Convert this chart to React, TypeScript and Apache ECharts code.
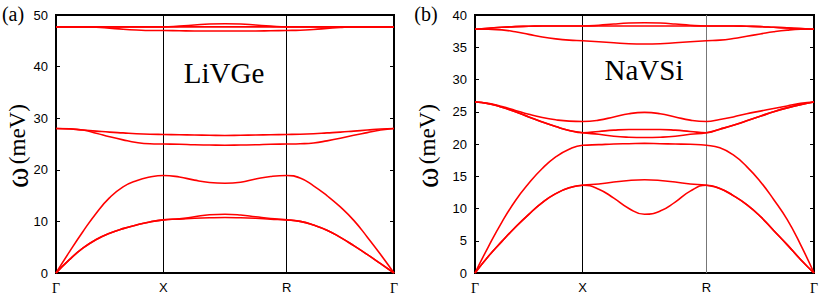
import React, { useEffect, useRef } from "react";
import * as echarts from "echarts";

// k-path positions (Γ, X, R, Γ) and sample points along the path
const K_LABEL_POS = [0, 1, 2.15, 3.15];
const K_LABELS = ["Γ", "X", "R", "Γ"];
const K = [0, 0.125, 0.25, 0.375, 0.5, 0.625, 0.75, 0.875, 1.0,
  1.15, 1.29, 1.43, 1.575, 1.72, 1.86, 2.0, 2.15,
  2.275, 2.4, 2.525, 2.65, 2.775, 2.9, 3.025, 3.15];

// (a) LiVGe phonon bands (meV)
const LIVGE_LA = [0, 4.1, 8.0, 11.6, 14.6, 16.7, 17.9, 18.6, 18.9, 18.6, 18.0, 17.55, 17.4, 17.6, 18.2, 18.7, 18.9, 18.4, 16.9, 15.0, 12.8, 10.2, 7.0, 3.6, 0];
const LIVGE_TA1 = [0, 2.6, 4.8, 6.5, 7.7, 8.6, 9.3, 9.9, 10.3, 10.5, 10.9, 11.3, 11.4, 11.25, 10.9, 10.55, 10.3, 10.0, 9.3, 8.3, 6.9, 5.3, 3.6, 1.8, 0];
const LIVGE_TA2 = [0, 2.6, 4.8, 6.5, 7.7, 8.6, 9.3, 9.9, 10.3, 10.45, 10.6, 10.7, 10.75, 10.7, 10.6, 10.45, 10.3, 10.0, 9.3, 8.3, 6.9, 5.3, 3.6, 1.8, 0];
const LIVGE_O1 = [28.0, 27.9, 27.7, 27.5, 27.3, 27.15, 27.0, 26.9, 26.85, 26.8, 26.75, 26.7, 26.65, 26.7, 26.75, 26.8, 26.85, 26.9, 27.0, 27.15, 27.3, 27.5, 27.7, 27.9, 28.0];
const LIVGE_O2 = [28.0, 27.95, 27.7, 27.1, 26.4, 25.8, 25.3, 25.05, 25.0, 24.95, 24.85, 24.8, 24.75, 24.8, 24.85, 24.95, 25.0, 25.05, 25.2, 25.6, 26.1, 26.7, 27.2, 27.7, 28.0];
const LIVGE_H1 = [47.7, 47.7, 47.7, 47.7, 47.7, 47.7, 47.7, 47.7, 47.7, 47.7, 47.7, 47.7, 47.7, 47.7, 47.7, 47.7, 47.7, 47.7, 47.7, 47.7, 47.7, 47.7, 47.7, 47.7, 47.7];
const LIVGE_H2 = [47.7, 47.7, 47.7, 47.7, 47.7, 47.7, 47.7, 47.7, 47.7, 47.85, 48.05, 48.25, 48.3, 48.25, 48.05, 47.85, 47.7, 47.7, 47.7, 47.7, 47.7, 47.7, 47.7, 47.7, 47.7];
const LIVGE_H3 = [47.7, 47.7, 47.7, 47.65, 47.45, 47.25, 47.1, 47.0, 47.0, 46.95, 46.9, 46.9, 46.9, 46.9, 46.9, 46.95, 47.0, 47.05, 47.2, 47.4, 47.6, 47.7, 47.7, 47.7, 47.7];

// (b) NaVSi phonon bands (meV)
const NAVSI_LA = [0, 4.1, 7.9, 11.2, 13.9, 16.2, 18.0, 19.2, 19.8, 19.9, 20.0, 20.05, 20.1, 20.05, 20.0, 19.95, 19.8, 19.4, 18.3, 16.5, 14.2, 11.4, 8.3, 4.4, 0];
const NAVSI_TA1 = [0, 2.6, 4.9, 7.1, 9.1, 10.9, 12.3, 13.2, 13.6, 13.0, 11.6, 10.0, 9.1, 9.6, 11.0, 12.7, 13.6, 13.1, 12.0, 10.6, 8.8, 6.6, 4.4, 2.1, 0];
const NAVSI_TA2 = [0, 2.6, 4.9, 7.1, 9.1, 10.9, 12.3, 13.2, 13.6, 13.8, 14.1, 14.35, 14.45, 14.35, 14.1, 13.8, 13.6, 13.1, 12.0, 10.6, 8.8, 6.6, 4.4, 2.1, 0];
const NAVSI_O1 = [26.5, 26.3, 25.8, 25.2, 24.6, 24.1, 23.75, 23.55, 23.5, 23.7, 24.2, 24.7, 24.9, 24.7, 24.2, 23.7, 23.5, 23.8, 24.2, 24.7, 25.1, 25.5, 25.9, 26.3, 26.5];
const NAVSI_O2 = [26.5, 26.25, 25.7, 25.0, 24.2, 23.4, 22.7, 22.1, 21.75, 21.95, 22.15, 22.25, 22.25, 22.25, 22.15, 21.95, 21.75, 22.3, 22.9, 23.6, 24.3, 25.0, 25.6, 26.1, 26.5];
const NAVSI_O3 = [26.5, 26.25, 25.7, 25.0, 24.2, 23.4, 22.7, 22.1, 21.75, 21.5, 21.2, 21.05, 21.0, 21.05, 21.2, 21.5, 21.75, 22.3, 22.9, 23.6, 24.3, 25.0, 25.6, 26.1, 26.5];
const NAVSI_H1 = [37.8, 37.95, 38.1, 38.2, 38.25, 38.3, 38.3, 38.3, 38.3, 38.3, 38.3, 38.3, 38.3, 38.3, 38.3, 38.3, 38.3, 38.3, 38.3, 38.25, 38.2, 38.1, 38.0, 37.9, 37.8];
const NAVSI_H2 = [37.8, 37.95, 38.1, 38.2, 38.25, 38.3, 38.3, 38.3, 38.3, 38.4, 38.6, 38.75, 38.8, 38.75, 38.6, 38.4, 38.3, 38.3, 38.3, 38.25, 38.2, 38.1, 38.0, 37.9, 37.8];
const NAVSI_H3 = [37.8, 37.78, 37.7, 37.4, 37.0, 36.6, 36.3, 36.1, 36.0, 35.85, 35.7, 35.55, 35.5, 35.55, 35.7, 35.85, 36.0, 36.1, 36.35, 36.7, 37.05, 37.4, 37.65, 37.78, 37.8];

const LEFT_BANDS = [LIVGE_LA, LIVGE_TA1, LIVGE_TA2, LIVGE_O1, LIVGE_O2, LIVGE_H1, LIVGE_H2, LIVGE_H3];
const RIGHT_BANDS = [NAVSI_LA, NAVSI_TA1, NAVSI_TA2, NAVSI_O1, NAVSI_O2, NAVSI_O3, NAVSI_H1, NAVSI_H2, NAVSI_H3];

const SANS = "'Liberation Sans', Arial, sans-serif";
const SERIF = "'Liberation Serif', 'Times New Roman', serif";

function kLabel(v: number) {
  const i = K_LABEL_POS.findIndex((p) => Math.abs(p - v) < 1e-6);
  if (i < 0) return "";
  const s = K_LABELS[i];
  return s === "Γ" ? "{g|Γ}" : s;
}

export default function App() {
  const ref = useRef<HTMLDivElement>(null);
  useEffect(() => {
    if (!ref.current) return;
    const chart = echarts.init(ref.current, undefined, { renderer: "svg" });

    const mkX = (gi: number) => ({
      type: "value",
      gridIndex: gi,
      min: 0,
      max: K_LABEL_POS[K_LABEL_POS.length - 1],
      axisLine: { show: false },
      axisTick: { show: false },
      splitLine: { show: false },
      axisLabel: {
        customValues: K_LABEL_POS,
        formatter: kLabel,
        color: "#000",
        fontSize: 13,
        fontFamily: SANS,
        margin: 8,
        rich: { g: { fontFamily: SERIF, fontSize: 14, color: "#000" } },
      },
    });
    const mkY = (gi: number, max: number, interval: number, side: "left" | "right") => ({
      type: "value",
      gridIndex: gi,
      position: side,
      min: 0,
      max,
      interval,
      axisLine: { show: false },
      axisTick: { show: true, inside: true, length: 4, lineStyle: { color: "#000", width: 1 } },
      splitLine: { show: false },
      axisLabel: {
        show: side === "left",
        color: "#000",
        fontSize: 13,
        fontFamily: SANS,
        margin: 8,
      },
    });

    const series: any[] = [];
    const addBands = (bands: number[][], gi: number, lineColors: string[]) => {
      bands.forEach((b, bi) => {
        const s: any = {
          type: "line",
          xAxisIndex: gi,
          yAxisIndex: gi * 2,
          data: K.map((k, i) => [k, b[i]]),
          smooth: 0.5,
          showSymbol: false,
          symbol: "none",
          lineStyle: { color: "#ff0000", width: 1.6 },
          silent: true,
          z: 3,
        };
        if (bi === 0) {
          s.markLine = {
            silent: true,
            symbol: ["none", "none"],
            label: { show: false },
            z: 1,
            data: [
              { xAxis: K_LABEL_POS[1], lineStyle: { color: lineColors[0], width: 1, type: "solid" } },
              { xAxis: K_LABEL_POS[2], lineStyle: { color: lineColors[1], width: 1, type: "solid" } },
            ],
          };
        }
        series.push(s);
      });
    };
    addBands(LEFT_BANDS, 0, ["#000", "#000"]);
    addBands(RIGHT_BANDS, 1, ["#000", "#777"]);

    const yLabel = (x: number) => ({
      type: "text",
      x,
      y: 146,
      rotation: Math.PI / 2,
      style: {
        text: "{w|ω} {m|(meV)}",
        align: "center",
        verticalAlign: "middle",
        fill: "#000",
        rich: {
          w: { fontFamily: SERIF, fontSize: 31, fill: "#000", lineHeight: 26 },
          m: { fontFamily: SERIF, fontSize: 23, fill: "#000", lineHeight: 26 },
        },
      },
    });

    chart.setOption({
      animation: false,
      backgroundColor: "#fff",
      grid: [
        { left: 56, top: 15, width: 338, height: 258, show: true, borderColor: "#000", borderWidth: 2, backgroundColor: "transparent" },
        { left: 475, top: 15, width: 339, height: 258, show: true, borderColor: "#000", borderWidth: 2, backgroundColor: "transparent" },
      ],
      xAxis: [mkX(0), mkX(1)],
      yAxis: [mkY(0, 50, 10, "left"), mkY(0, 50, 10, "right"), mkY(1, 40, 5, "left"), mkY(1, 40, 5, "right")],
      series,
      graphic: [
        { type: "text", x: 13, y: 14, style: { text: "(a)", font: `20px ${SERIF}`, fill: "#000", align: "center", verticalAlign: "middle" } },
        { type: "text", x: 426, y: 14, style: { text: "(b)", font: `20px ${SERIF}`, fill: "#000", align: "center", verticalAlign: "middle" } },
        yLabel(17),
        yLabel(427),
        { type: "text", x: 224, y: 73, style: { text: "LiVGe", font: `29px ${SERIF}`, fill: "#000", align: "center", verticalAlign: "middle" } },
        { type: "text", x: 644, y: 70, style: { text: "NaVSi", font: `29px ${SERIF}`, fill: "#000", align: "center", verticalAlign: "middle" } },
      ],
    });
    return () => chart.dispose();
  }, []);
  return <div ref={ref} style={{ position: "fixed", left: 0, top: 0, width: 830, height: 299 }} />;
}
